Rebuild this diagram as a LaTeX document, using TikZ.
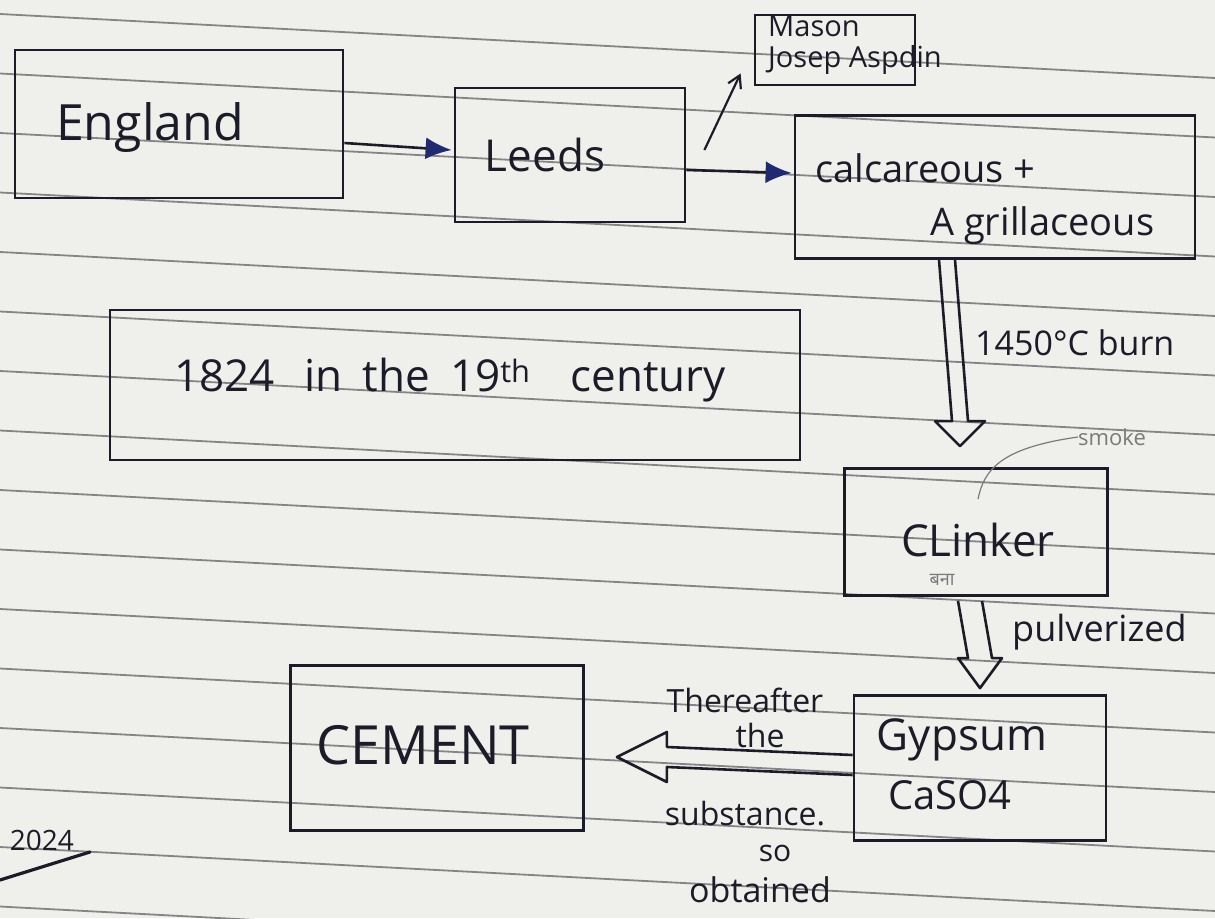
\documentclass[tikz,border=0pt]{standalone}
\usepackage{fontspec}
\setmainfont{Open Sans}
\newfontfamily\devfont[Script=Devanagari]{Noto Sans}
\usetikzlibrary{calc,arrows.meta}
\definecolor{ink}{HTML}{1C1C28}
\definecolor{paper}{HTML}{EFEFEC}
\definecolor{rulec}{HTML}{858585}
\definecolor{navy}{HTML}{1F2A70}
\definecolor{pencil}{HTML}{7A7A7A}
\newcommand\hollowv[5]{%
  \draw[hol] ($(#1)+(-#3,0)$) -- ($(#2)+(-#3,-#5)$) -- ($(#2)+(-#4,-#5)$) -- (#2)
    -- ($(#2)+(#4,-#5)$) -- ($(#2)+(#3,-#5)$) -- ($(#1)+(#3,0)$);}
\newcommand\hollowh[5]{%
  \draw[hol] ($(#1)+(0,-#3)$) -- ($(#2)+(#5,-#3)$) -- ($(#2)+(#5,-#4)$) -- (#2)
    -- ($(#2)+(#5,#4)$) -- ($(#2)+(#5,#3)$) -- ($(#1)+(0,#3)$);}
\newcommand\fs[1]{\fontsize{#1}{#1}\selectfont}
\begin{document}
\begin{tikzpicture}[x=1pt,y=-1pt,
  box/.style={draw=ink,line width=2.8pt,inner sep=0pt},
  lbl/.style={text=ink,inner sep=0pt},
  flow/.style={draw=ink,line width=2.6pt,-{Latex[length=26pt,width=22pt,color=navy]}},
  thinarrow/.style={draw=ink,line width=2.2pt,-{Straight Barb[length=12pt,width=14pt]}},
  hol/.style={draw=ink,line width=2.6pt,line join=round},
  ruled/.style={draw=rulec,line width=1.8pt}]
\fill[paper] (0,0) rectangle (1215,918);
\useasboundingbox (0,0) rectangle (1215,918);
\foreach \k in {0,...,15} \draw[ruled] (0,14+59.5*\k) -- (1215,78+59.5*\k);

% boxes
\node[box,minimum width=328pt,minimum height=148pt] (england) at (179,124) {};
\node[box,minimum width=230pt,minimum height=134pt] (leeds) at (570,155) {};
\node[box,minimum width=160pt,minimum height=70pt] (mason) at (835,50) {};
\node[box,minimum width=400pt,minimum height=143pt] (calc) at (995,187) {};
\node[box,minimum width=690pt,minimum height=150pt] (year) at (455,385) {};
\node[box,minimum width=263pt,minimum height=127pt] (clinker) at (976,532) {};
\node[box,minimum width=252pt,minimum height=145pt] (gypsum) at (980,768) {};
\node[box,minimum width=293pt,minimum height=165pt] (cement) at (437,748) {};

% texts
\node[lbl,font=\fs{50}] (tEngland) at (150,128) {England};
\node[lbl,font=\fs{44}] (tLeeds) at (545,155) {Leeds};
\node[lbl,font=\fs{29},align=left,anchor=north west] (tMason) at (768,16) {Mason\\[2pt]Josep Aspdin};
\node[lbl,font=\fs{38},anchor=west] (tCalc1) at (815,168) {calcareous +};
\node[lbl,font=\fs{38},anchor=west] (tCalc2) at (930,226) {A grillaceous};
\node[lbl,font=\fs{44}] (tYear) at (450,380) {1824\hspace{30pt}in\hspace{20pt}the\hspace{20pt}19\textsuperscript{th}\hspace{40pt}century};
\node[lbl,font=\fs{34},anchor=west] (tBurn) at (975,343) {1450°C burn};
\node[lbl,font=\fs{22},text=pencil] (tSmoke) at (1112,437) {smoke};
\node[lbl,font=\fs{44}] (tClinker) at (978,540) {CLinker};
\node[lbl,font=\devfont\fs{18},text=pencil] (tBana) at (942,580) {बना};
\node[lbl,font=\fs{36},anchor=west] (tPulv) at (1012,632) {pulverized};
\node[lbl,font=\fs{44}] (tGypsum) at (962,740) {Gypsum};
\node[lbl,font=\fs{40}] (tCaso) at (950,795) {CaSO4};
\node[lbl,font=\fs{54}] (tCement) at (423,745) {CEMENT};
\node[lbl,font=\fs{32}] (tThere) at (745,700) {Thereafter};
\node[lbl,font=\fs{32}] (tThe) at (760,735) {the};
\node[lbl,font=\fs{32}] (tSubst) at (745,814) {substance.};
\node[lbl,font=\fs{30}] (tSo) at (775,853) {so};
\node[lbl,font=\fs{34}] (tObt) at (760,890) {obtained};
\node[lbl,font=\fs{28},anchor=east] (tYr) at (74,840) {2024};

% connectors
\draw[flow] ($(england.east)+(0,19)$) -- ($(leeds.west)+(-2,-5)$);
\draw[flow] ($(leeds.east)+(0,15)$) -- ($(calc.west)+(-2,-14)$);
\draw[thinarrow] ($(leeds.east)+(18,-5)$) -- ($(mason.south west)+(-13,-13)$);

\coordinate (s1) at ($(calc.south)+(-48,0)$);
\coordinate (t1) at ($(clinker.north)+(-16,-21)$);
\hollowv{s1}{t1}{8}{25}{25}
\coordinate (s2) at ($(clinker.south)+(-6,4)$);
\coordinate (t2) at ($(gypsum.north)+(0,-6)$);
\hollowv{s2}{t2}{12}{22}{30}
\coordinate (s3) at ($(gypsum.west)+(0,-3)$);
\coordinate (t3) at ($(cement.east)+(32,9)$);
\hollowh{s3}{t3}{10}{25}{50}

\coordinate (smokeEnd) at ($(clinker.north)+(2,32)$);
\draw[pencil,line width=1.2pt] (tSmoke.west) .. controls (1000,448) and (984,470) .. (smokeEnd);
\draw[ink,line width=3.2pt,line cap=round] (0,880) -- (90,852);
\end{tikzpicture}
\end{document}
